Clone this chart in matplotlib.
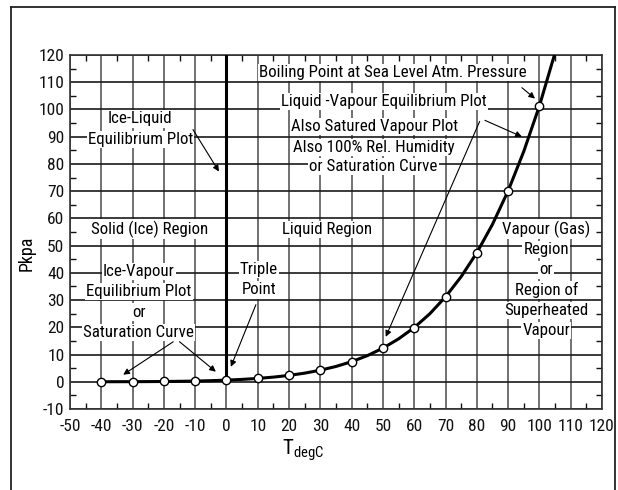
import matplotlib
matplotlib.use("Agg")
import matplotlib.pyplot as plt
from matplotlib.lines import Line2D
from matplotlib.ticker import MultipleLocator

plt.rcParams['font.family'] = ['Roboto Condensed', 'Liberation Sans', 'DejaVu Sans']
plt.rcParams['font.size'] = 11
plt.rcParams['axes.unicode_minus'] = False
plt.rcParams['mathtext.fontset'] = 'custom'
plt.rcParams['mathtext.rm'] = 'Roboto Condensed'

# saturation pressure of water (kPa)
temp_marks = [-40, -30, -20, -10, 0, 10, 20, 30, 40, 50, 60, 70, 80, 90, 100]
p_marks = [0.013, 0.038, 0.10, 0.26, 0.61, 1.23, 2.34, 4.25, 7.38, 12.35, 19.9, 31.2, 47.4, 70.1, 101.3]

temp_curve = [-40, -35, -30, -25, -20, -15, -10, -5, 0, 5, 10, 15, 20, 25, 30, 35, 40, 45,
              50, 55, 60, 65, 70, 75, 80, 85, 90, 95, 100, 105]
p_curve = [0.013, 0.022, 0.038, 0.064, 0.10, 0.17, 0.26, 0.40, 0.61, 0.87, 1.23, 1.71, 2.34,
           3.17, 4.25, 5.63, 7.38, 9.59, 12.35, 15.76, 19.9, 25.0, 31.2, 38.6, 47.4, 57.8,
           70.1, 84.6, 101.3, 120.8]

ice_liquid_t = [0, 0]
ice_liquid_p = [0.61, 120]

fig = plt.figure(figsize=(6.18, 4.9), dpi=100)
ax = fig.add_axes([70 / 618, 1 - 409 / 490, 532 / 618, 354 / 490])

# outer frame (open at the bottom)
for xs, ys in [([11 / 618, 11 / 618], [0, 1 - 7 / 490]),
               ([11 / 618, 615 / 618], [1 - 7 / 490, 1 - 7 / 490]),
               ([615 / 618, 615 / 618], [1 - 7 / 490, 0])]:
    fig.add_artist(Line2D(xs, ys, transform=fig.transFigure, color='#222222', lw=1.3))

ax.set_xlim(-50, 120)
ax.set_ylim(-10, 120)
ax.xaxis.set_major_locator(MultipleLocator(10))
ax.yaxis.set_major_locator(MultipleLocator(10))
ax.xaxis.set_minor_locator(MultipleLocator(5))
ax.yaxis.set_minor_locator(MultipleLocator(5))
ax.tick_params(which='both', direction='in', top=True, right=True, colors='#111111')
ax.tick_params(which='major', length=0, labelsize=12.5)
ax.tick_params(axis='x', which='major', pad=7)
ax.tick_params(axis='y', which='major', pad=4)
ax.tick_params(which='minor', length=4.5, width=1)
ax.xaxis.grid(True, color='#666666', lw=1.3)
ax.yaxis.grid(True, color='#1a1a1a', lw=1.2)
ax.set_axisbelow(True)
for s in ax.spines.values():
    s.set_color('#333333')
    s.set_linewidth(1.2)

ax.plot(temp_curve, p_curve, color='black', lw=2.2, zorder=5)
ax.plot(ice_liquid_t, ice_liquid_p, color='black', lw=2.2, zorder=5)
ax.plot(temp_marks, p_marks, 'o', ms=6, mfc='white', mec='black', mew=1, zorder=6)

fig.text(303 / 618, 1 - 450 / 490, r'T$_{\mathrm{degC}}$', ha='center', va='center', fontsize=15)
fig.text(27 / 618, 1 - 253 / 490, 'Pkpa', ha='center', va='center', rotation=90, fontsize=13)

box = dict(facecolor='white', edgecolor='none', pad=0.8)


def label_block(lines, x, y, lh=14.6):
    for i, line in enumerate(lines):
        ax.annotate(line, (x, y), xytext=(0, -i * lh), textcoords='offset points',
                    ha='center', va='center', bbox=box, zorder=7, fontsize=12.2)


def arrow(x0, y0, x1, y1):
    ax.annotate('', xy=(x1, y1), xytext=(x0, y0),
                arrowprops=dict(arrowstyle='-|>', color='black', lw=0.8,
                                mutation_scale=9, shrinkA=0, shrinkB=0), zorder=8)


label_block(['Ice-Liquid', 'Equilibrium Plot'], -27.5, 96.5)
label_block(['Solid (Ice) Region'], -24.6, 56)
label_block(['Liquid Region'], 32, 56)
label_block(['Boiling Point at Sea Level Atm. Pressure'], 53.3, 113.6)
label_block(['Liquid -Vapour Equilibrium Plot'], 50.3, 103)
label_block(['Also Satured Vapour Plot'], 47.4, 93.8)
label_block(['Also 100% Rel. Humidity'], 47, 86)
label_block(['or Saturation Curve'], 47, 79)
label_block(['Vapour (Gas)', 'Region', 'or', 'Region of', 'Superheated', 'Vapour'], 102.2, 56)
label_block(['Ice-Vapour', 'Equilibrium Plot', 'or', 'Saturation Curve'], -28, 40.5)
label_block(['Triple', 'Point'], 10.4, 41.2)

arrow(-10.7, 92.6, -2.4, 77.2)
arrow(94.4, 108, 98.6, 104)
arrow(82.6, 96, 94.4, 90)
arrow(80.9, 95.6, 50.9, 16.5)
arrow(-17, 14.7, -33, 2.6)
arrow(-15, 14.7, -3.4, 3.7)
arrow(9.4, 28.3, 1.4, 5.5)

fig.savefig('out.png', dpi=100)
